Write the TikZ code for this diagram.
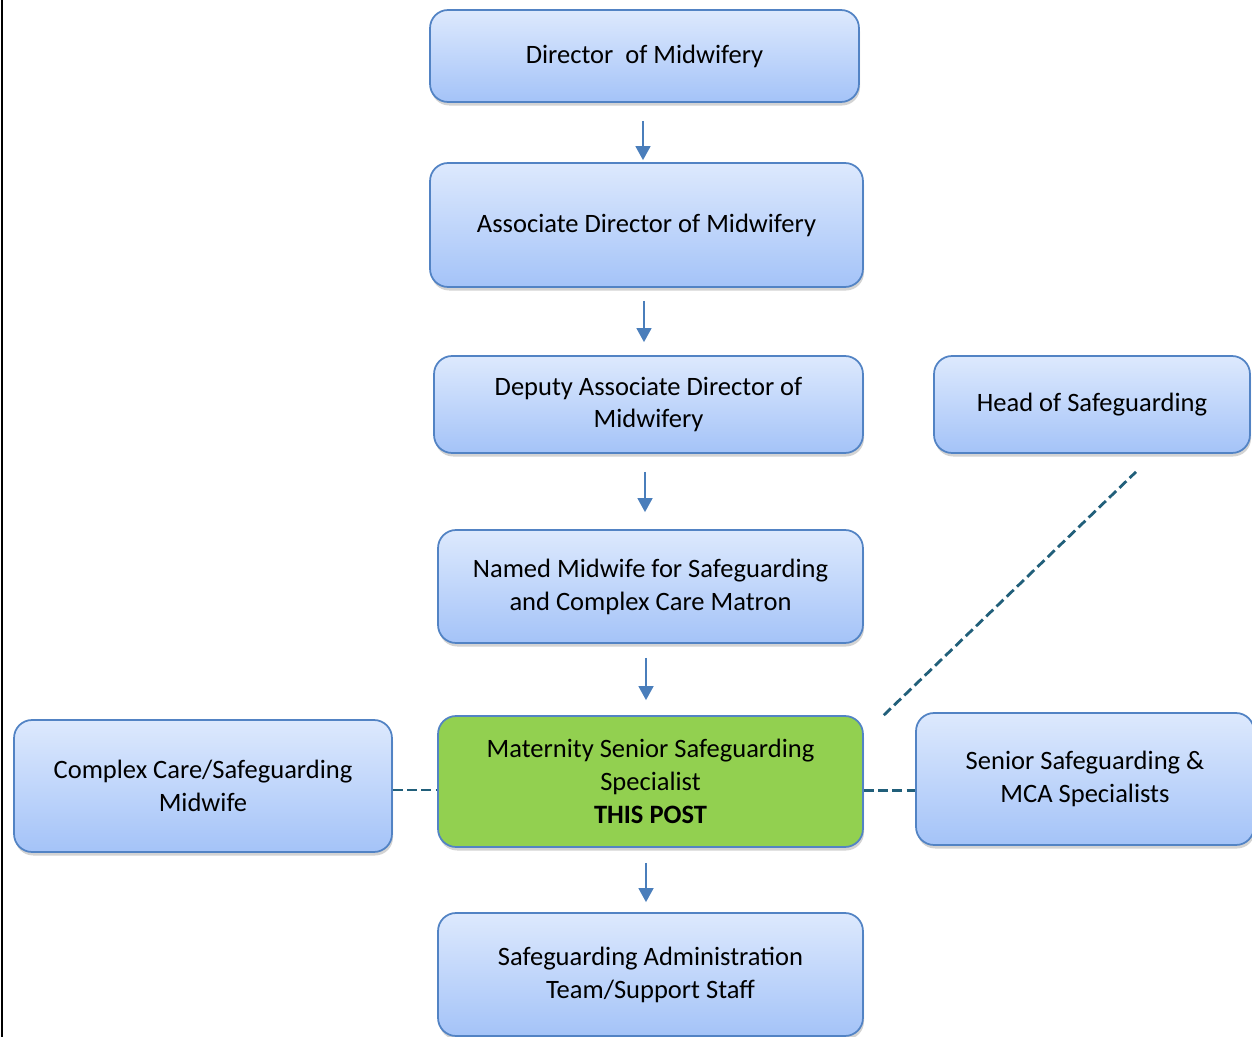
\documentclass[tikz,border=0pt]{standalone}
\usepackage{fontspec}
\setmainfont{Carlito}
\usetikzlibrary{arrows.meta,shadows}
\definecolor{boxtop}{HTML}{DDE9FD}
\definecolor{boxbot}{HTML}{A4C3F8}
\definecolor{boxline}{HTML}{5283C4}
\definecolor{postgreen}{HTML}{92D050}
\definecolor{arrowblue}{HTML}{4A7EBB}
\definecolor{linkteal}{HTML}{215F7A}
\tikzset{
  box/.style={draw=boxline,line width=1pt,rounded corners=0.36cm,
    top color=boxtop,bottom color=boxbot,align=center,inner sep=0pt,
    font=\fontsize{15.1}{18.7}\selectfont,
    drop shadow={shadow xshift=0.6pt,shadow yshift=-2pt,opacity=0.35}},
  postbox/.style={box,fill=postgreen,top color=postgreen,bottom color=postgreen},
  down/.style={arrowblue,line width=1.1pt,
    -{Triangle[width=8.5pt,length=8pt]}},
  link/.style={linkteal,line width=1.6pt,dash pattern=on 5.5pt off 2.6pt}
}
\begin{document}
\begin{tikzpicture}[x=0.02cm,y=-0.02cm]
  \useasboundingbox (0,0) rectangle (1252,1037);
  \draw[line width=1.2pt] (2,0) -- (2,1037);
  % main line
  \node[box,minimum width=8.58cm,minimum height=1.84cm] (dir) at (644.5,56)
    {Director\ \ of Midwifery};
  \node[box,minimum width=8.66cm,minimum height=2.48cm] (assoc) at (646.5,225)
    {Associate Director of Midwifery};
  \node[box,minimum width=8.58cm,minimum height=1.94cm] (deputy) at (648.5,404.5)
    {Deputy Associate Director of\\Midwifery};
  \node[box,minimum width=8.5cm,minimum height=2.26cm] (named) at (650.5,586.5)
    {Named Midwife for Safeguarding\\and Complex Care Matron};
  \node[postbox,minimum width=8.5cm,minimum height=2.62cm] (post) at (650.5,781.5)
    {Maternity Senior Safeguarding\\Specialist\\\textbf{THIS POST}};
  \node[box,minimum width=8.5cm,minimum height=2.46cm] (admin) at (650.5,974.5)
    {Safeguarding Administration\\Team/Support Staff};
  % side boxes
  \node[box,minimum width=7.56cm,minimum height=2.64cm] (complex) at (203,786)
    {Complex Care/Safeguarding\\Midwife};
  \node[box,minimum width=6.32cm,minimum height=1.94cm] (head) at (1092,404.5)
    {Head of Safeguarding};
  \node[box,minimum width=6.76cm,minimum height=2.64cm] (senior) at (1085,779)
    {Senior Safeguarding \&\\MCA Specialists};
  % arrows
  \draw[down,shorten <=0.36cm,shorten >=0.04cm]
    ([xshift=-0.03cm]dir.south) -- ([xshift=-0.03cm]dir.south |- assoc.north);
  \draw[down,shorten <=0.26cm,shorten >=0.26cm]
    ([xshift=-0.05cm]assoc.south) -- ([xshift=-0.05cm]assoc.south |- deputy.north);
  \draw[down,shorten <=0.36cm,shorten >=0.34cm]
    ([xshift=-0.07cm]deputy.south) -- ([xshift=-0.07cm]deputy.south |- named.north);
  \draw[down,shorten <=0.28cm,shorten >=0.3cm]
    ([xshift=-0.09cm]named.south) -- ([xshift=-0.09cm]named.south |- post.north);
  \draw[down,shorten <=0.3cm,shorten >=0.2cm]
    ([xshift=-0.09cm]post.south) -- ([xshift=-0.09cm]post.south |- admin.north);
  % dashed links
  \draw[link] ([yshift=-0.08cm]complex.east) -- ([yshift=-0.08cm]complex.east -| post.west);
  \draw[link] ([yshift=-0.18cm]post.east) -- ([yshift=-0.18cm]post.east -| senior.west);
  \draw[link] ([xshift=0.4cm]post.north east) -- ([xshift=0.88cm,yshift=-0.36cm]head.south);
\end{tikzpicture}
\end{document}
